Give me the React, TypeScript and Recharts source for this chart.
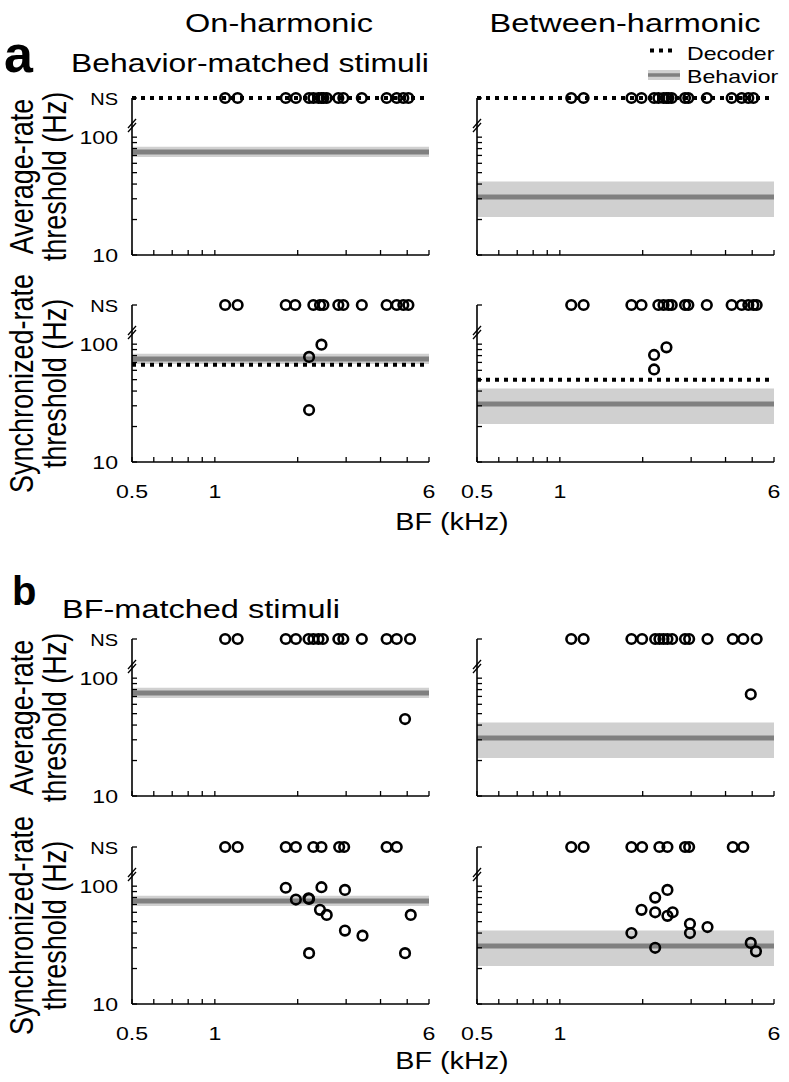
import React from "react";
import {
  ComposedChart,
  XAxis,
  YAxis,
  Scatter,
  ReferenceLine,
  ReferenceArea,
} from "recharts";

// value where the "not significant" row is plotted, and where the axis break sits
const NS = 215;
const AXIS_BREAK = 122;

const bfTicks = [0.5, 0.6, 0.7, 0.8, 0.9, 1, 2, 3, 4, 5, 6];
const bfLabels = [0.5, 1, 6];
const thrTicks = [10, 20, 30, 40, 50, 60, 70, 80, 90, 100, AXIS_BREAK, NS];
const thrLabels = [10, 100, NS];

// behavioural thresholds (Hz): [low, mean, high]
const behaviorOn = [68, 75, 83];
const behaviorBetween = [21, 31, 42];

// decoder thresholds in panel a (Hz): [average-rate, synchronized-rate]
const decoderOn = [NS, 67];
const decoderBetween = [NS, 50];

// panel a, behavior-matched stimuli: BFs (kHz) of non-significant units
const nsAOnAvg = [1.09, 1.21, 1.81, 1.97, 2.2, 2.28, 2.38, 2.44, 2.48, 2.55, 2.81, 2.93, 3.42, 4.21, 4.58, 4.84, 5.05];
const nsABetAvg = [1.1, 1.22, 1.82, 1.98, 2.2, 2.28, 2.38, 2.44, 2.48, 2.55, 2.85, 2.93, 3.42, 4.21, 4.58, 4.84, 5.05];
const nsAOnSync = [1.09, 1.21, 1.81, 1.96, 2.28, 2.41, 2.48, 2.81, 2.93, 3.42, 4.21, 4.58, 4.84, 5.05];
const nsABetSync = [1.1, 1.22, 1.82, 1.98, 2.28, 2.38, 2.48, 2.55, 2.85, 2.93, 3.42, 4.21, 4.58, 4.84, 5.05, 5.19];

// [BF kHz, threshold Hz]
const ptsAOnAvg: number[][] = [];
const ptsABetAvg: number[][] = [];
const ptsAOnSync = [[2.2, 78], [2.44, 99], [2.2, 27.6]];
const ptsABetSync = [[2.2, 81], [2.44, 94], [2.2, 61]];

// panel b, BF-matched stimuli
const nsBOnAvg = [1.09, 1.21, 1.81, 1.97, 2.19, 2.28, 2.38, 2.47, 2.81, 2.93, 3.42, 4.21, 4.58, 5.12];
const nsBBetAvg = [1.1, 1.22, 1.82, 1.99, 2.22, 2.3, 2.38, 2.46, 2.56, 2.85, 2.95, 3.44, 4.25, 4.64, 5.19];
const nsBOnSync = [1.09, 1.21, 1.81, 1.97, 2.28, 2.44, 2.83, 2.95, 4.21, 4.58];
const nsBBetSync = [1.1, 1.22, 1.82, 1.99, 2.3, 2.46, 2.85, 2.95, 4.25, 4.64];

const ptsBOnAvg = [[4.91, 45]];
const ptsBBetAvg = [[4.94, 73]];
const ptsBOnSync = [
  [1.81, 97], [1.97, 77], [2.19, 79], [2.2, 78], [2.44, 98], [2.41, 63], [2.55, 57],
  [2.97, 93], [2.97, 42], [3.44, 38], [2.2, 27], [4.91, 27], [5.15, 57],
];
const ptsBBetSync = [
  [1.82, 40], [1.98, 63], [2.22, 80], [2.22, 60], [2.46, 93], [2.46, 56], [2.57, 60],
  [2.97, 48], [2.97, 40], [3.44, 45], [2.22, 30], [4.94, 33], [5.16, 28],
];

const FONT = '"Liberation Sans", Arial, sans-serif';
const SX = 1.25; // the figure's lettering is drawn wide

const PLOT_W = 297;
const PLOT_H = 157;
const ML = 80;
const MR = 14;
const MT = 14;
const MB = 46;

function Txt({ x, y, size, anchor = "middle", weight, rotate, sx = SX, children }: any) {
  const t = `translate(${x},${y}) scale(${sx},1)` + (rotate ? " rotate(-90)" : "");
  return (
    <text transform={t} fontSize={size} textAnchor={anchor} fontWeight={weight} fontFamily={FONT} fill="#000">
      {children}
    </text>
  );
}

function renderMarker(p: any) {
  return <circle cx={p.cx} cy={p.cy} r={4.8} fill="none" stroke="#000" strokeWidth={2.6} />;
}

function thrTick(p: any, showLabel: boolean) {
  const { x, y } = p;
  const v = p.payload.value;
  if (v === AXIS_BREAK) {
    return (
      <g>
        <line x1={x - 4} y1={y + 1} x2={x + 4} y2={y - 8} stroke="#000" strokeWidth={1.3} />
        <line x1={x - 4} y1={y + 5} x2={x + 4} y2={y - 4} stroke="#000" strokeWidth={1.3} />
      </g>
    );
  }
  const label = v === NS ? "NS" : String(v);
  return (
    <g>
      <line x1={x} y1={y} x2={x + 5} y2={y} stroke="#000" strokeWidth={1.3} />
      {showLabel && thrLabels.includes(v) && (
        <Txt x={x - 14} y={y + 6.5} size={v === NS ? 16 : 18.5} anchor="end">
          {label}
        </Txt>
      )}
    </g>
  );
}

function bfTick(p: any, showLabel: boolean) {
  const { x, y } = p;
  const v = p.payload.value;
  return (
    <g>
      <line x1={x} y1={y} x2={x} y2={y - 5} stroke="#000" strokeWidth={1.3} />
      {showLabel && bfLabels.includes(v) && (
        <Txt x={x} y={y + 36} size={18.5}>
          {String(v)}
        </Txt>
      )}
    </g>
  );
}

function Panel({ left, top, ns, pts, behavior, decoder, yLabels, xLabels }: any) {
  const data = [
    ...ns.map((bf: number) => ({ bf, thr: NS })),
    ...pts.map(([bf, thr]: number[]) => ({ bf, thr })),
  ];
  return (
    <div style={{ position: "absolute", left: left - ML, top: top - MT }}>
      <ComposedChart
        width={ML + PLOT_W + MR}
        height={MT + PLOT_H + MB}
        margin={{ top: MT, right: MR, bottom: 0, left: 0 }}
      >
        <XAxis
          type="number"
          dataKey="bf"
          scale="log"
          domain={[0.5, 6]}
          ticks={bfTicks}
          interval={0}
          height={MB}
          tickSize={0}
          tickMargin={0}
          tickLine={false}
          axisLine={{ stroke: "#000", strokeWidth: 1.6 }}
          tick={(p: any) => bfTick(p, xLabels)}
        />
        <YAxis
          type="number"
          dataKey="thr"
          scale="log"
          domain={[10, NS]}
          ticks={thrTicks}
          interval={0}
          width={ML}
          tickSize={0}
          tickMargin={0}
          tickLine={false}
          axisLine={{ stroke: "#000", strokeWidth: 1.6 }}
          tick={(p: any) => thrTick(p, yLabels)}
        />
        <ReferenceArea y1={behavior[0]} y2={behavior[2]} fill="#d0d0d0" fillOpacity={1} stroke="none" />
        <ReferenceLine y={behavior[1]} stroke="#808080" strokeWidth={5} />
        <Scatter data={data} dataKey="thr" isAnimationActive={false} shape={renderMarker} />
        {decoder != null && (
          <ReferenceLine y={decoder} stroke="#000" strokeWidth={4} strokeDasharray="4 5" />
        )}
      </ComposedChart>
    </div>
  );
}

const COLS = [132, 477];
const ROWS = [98, 305, 639, 847];

export default function App() {
  return (
    <div style={{ position: "absolute", left: 0, top: 0, width: 789, height: 1082, background: "#fff" }}>
      <Panel left={COLS[0]} top={ROWS[0]} ns={nsAOnAvg} pts={ptsAOnAvg} behavior={behaviorOn} decoder={decoderOn[0]} yLabels xLabels={false} />
      <Panel left={COLS[1]} top={ROWS[0]} ns={nsABetAvg} pts={ptsABetAvg} behavior={behaviorBetween} decoder={decoderBetween[0]} yLabels={false} xLabels={false} />
      <Panel left={COLS[0]} top={ROWS[1]} ns={nsAOnSync} pts={ptsAOnSync} behavior={behaviorOn} decoder={decoderOn[1]} yLabels xLabels />
      <Panel left={COLS[1]} top={ROWS[1]} ns={nsABetSync} pts={ptsABetSync} behavior={behaviorBetween} decoder={decoderBetween[1]} yLabels={false} xLabels />
      <Panel left={COLS[0]} top={ROWS[2]} ns={nsBOnAvg} pts={ptsBOnAvg} behavior={behaviorOn} decoder={null} yLabels xLabels={false} />
      <Panel left={COLS[1]} top={ROWS[2]} ns={nsBBetAvg} pts={ptsBBetAvg} behavior={behaviorBetween} decoder={null} yLabels={false} xLabels={false} />
      <Panel left={COLS[0]} top={ROWS[3]} ns={nsBOnSync} pts={ptsBOnSync} behavior={behaviorOn} decoder={null} yLabels xLabels />
      <Panel left={COLS[1]} top={ROWS[3]} ns={nsBBetSync} pts={ptsBBetSync} behavior={behaviorBetween} decoder={null} yLabels={false} xLabels />

      <svg width={789} height={1082} style={{ position: "absolute", left: 0, top: 0, pointerEvents: "none" }}>
        <Txt x={279} y={32} size={26}>On-harmonic</Txt>
        <Txt x={625} y={32} size={26}>Between-harmonic</Txt>
        <Txt x={4} y={72} size={52} anchor="start" weight="bold" sx={1}>a</Txt>
        <Txt x={250} y={72} size={25.5}>Behavior-matched stimuli</Txt>
        <Txt x={12} y={605} size={40} anchor="start" weight="bold" sx={1}>b</Txt>
        <Txt x={201} y={618} size={26}>BF-matched stimuli</Txt>

        {/* legend */}
        <line x1={650} y1={50.5} x2={676} y2={50.5} stroke="#000" strokeWidth={4} strokeDasharray="4 5" />
        <Txt x={687} y={60} size={18.5} anchor="start">Decoder</Txt>
        <rect x={648} y={70} width={32} height={10} fill="#d0d0d0" />
        <line x1={648} y1={75} x2={680} y2={75} stroke="#808080" strokeWidth={3.5} />
        <Txt x={687} y={83} size={18.5} anchor="start">Behavior</Txt>

        {/* y-axis titles */}
        {[ROWS[0], ROWS[2]].map((t) => (
          <g key={"avg" + t}>
            <Txt x={33} y={t + PLOT_H / 2} size={27} rotate>Average-rate</Txt>
            <Txt x={66} y={t + PLOT_H / 2} size={27} rotate>threshold (Hz)</Txt>
          </g>
        ))}
        {[ROWS[1], ROWS[3]].map((t) => (
          <g key={"sync" + t}>
            <Txt x={33} y={t + PLOT_H / 2} size={27} rotate>Synchronized-rate</Txt>
            <Txt x={66} y={t + PLOT_H / 2} size={27} rotate>threshold (Hz)</Txt>
          </g>
        ))}

        <Txt x={452} y={530} size={23}>BF (kHz)</Txt>
        <Txt x={452} y={1069} size={23}>BF (kHz)</Txt>
      </svg>
    </div>
  );
}
